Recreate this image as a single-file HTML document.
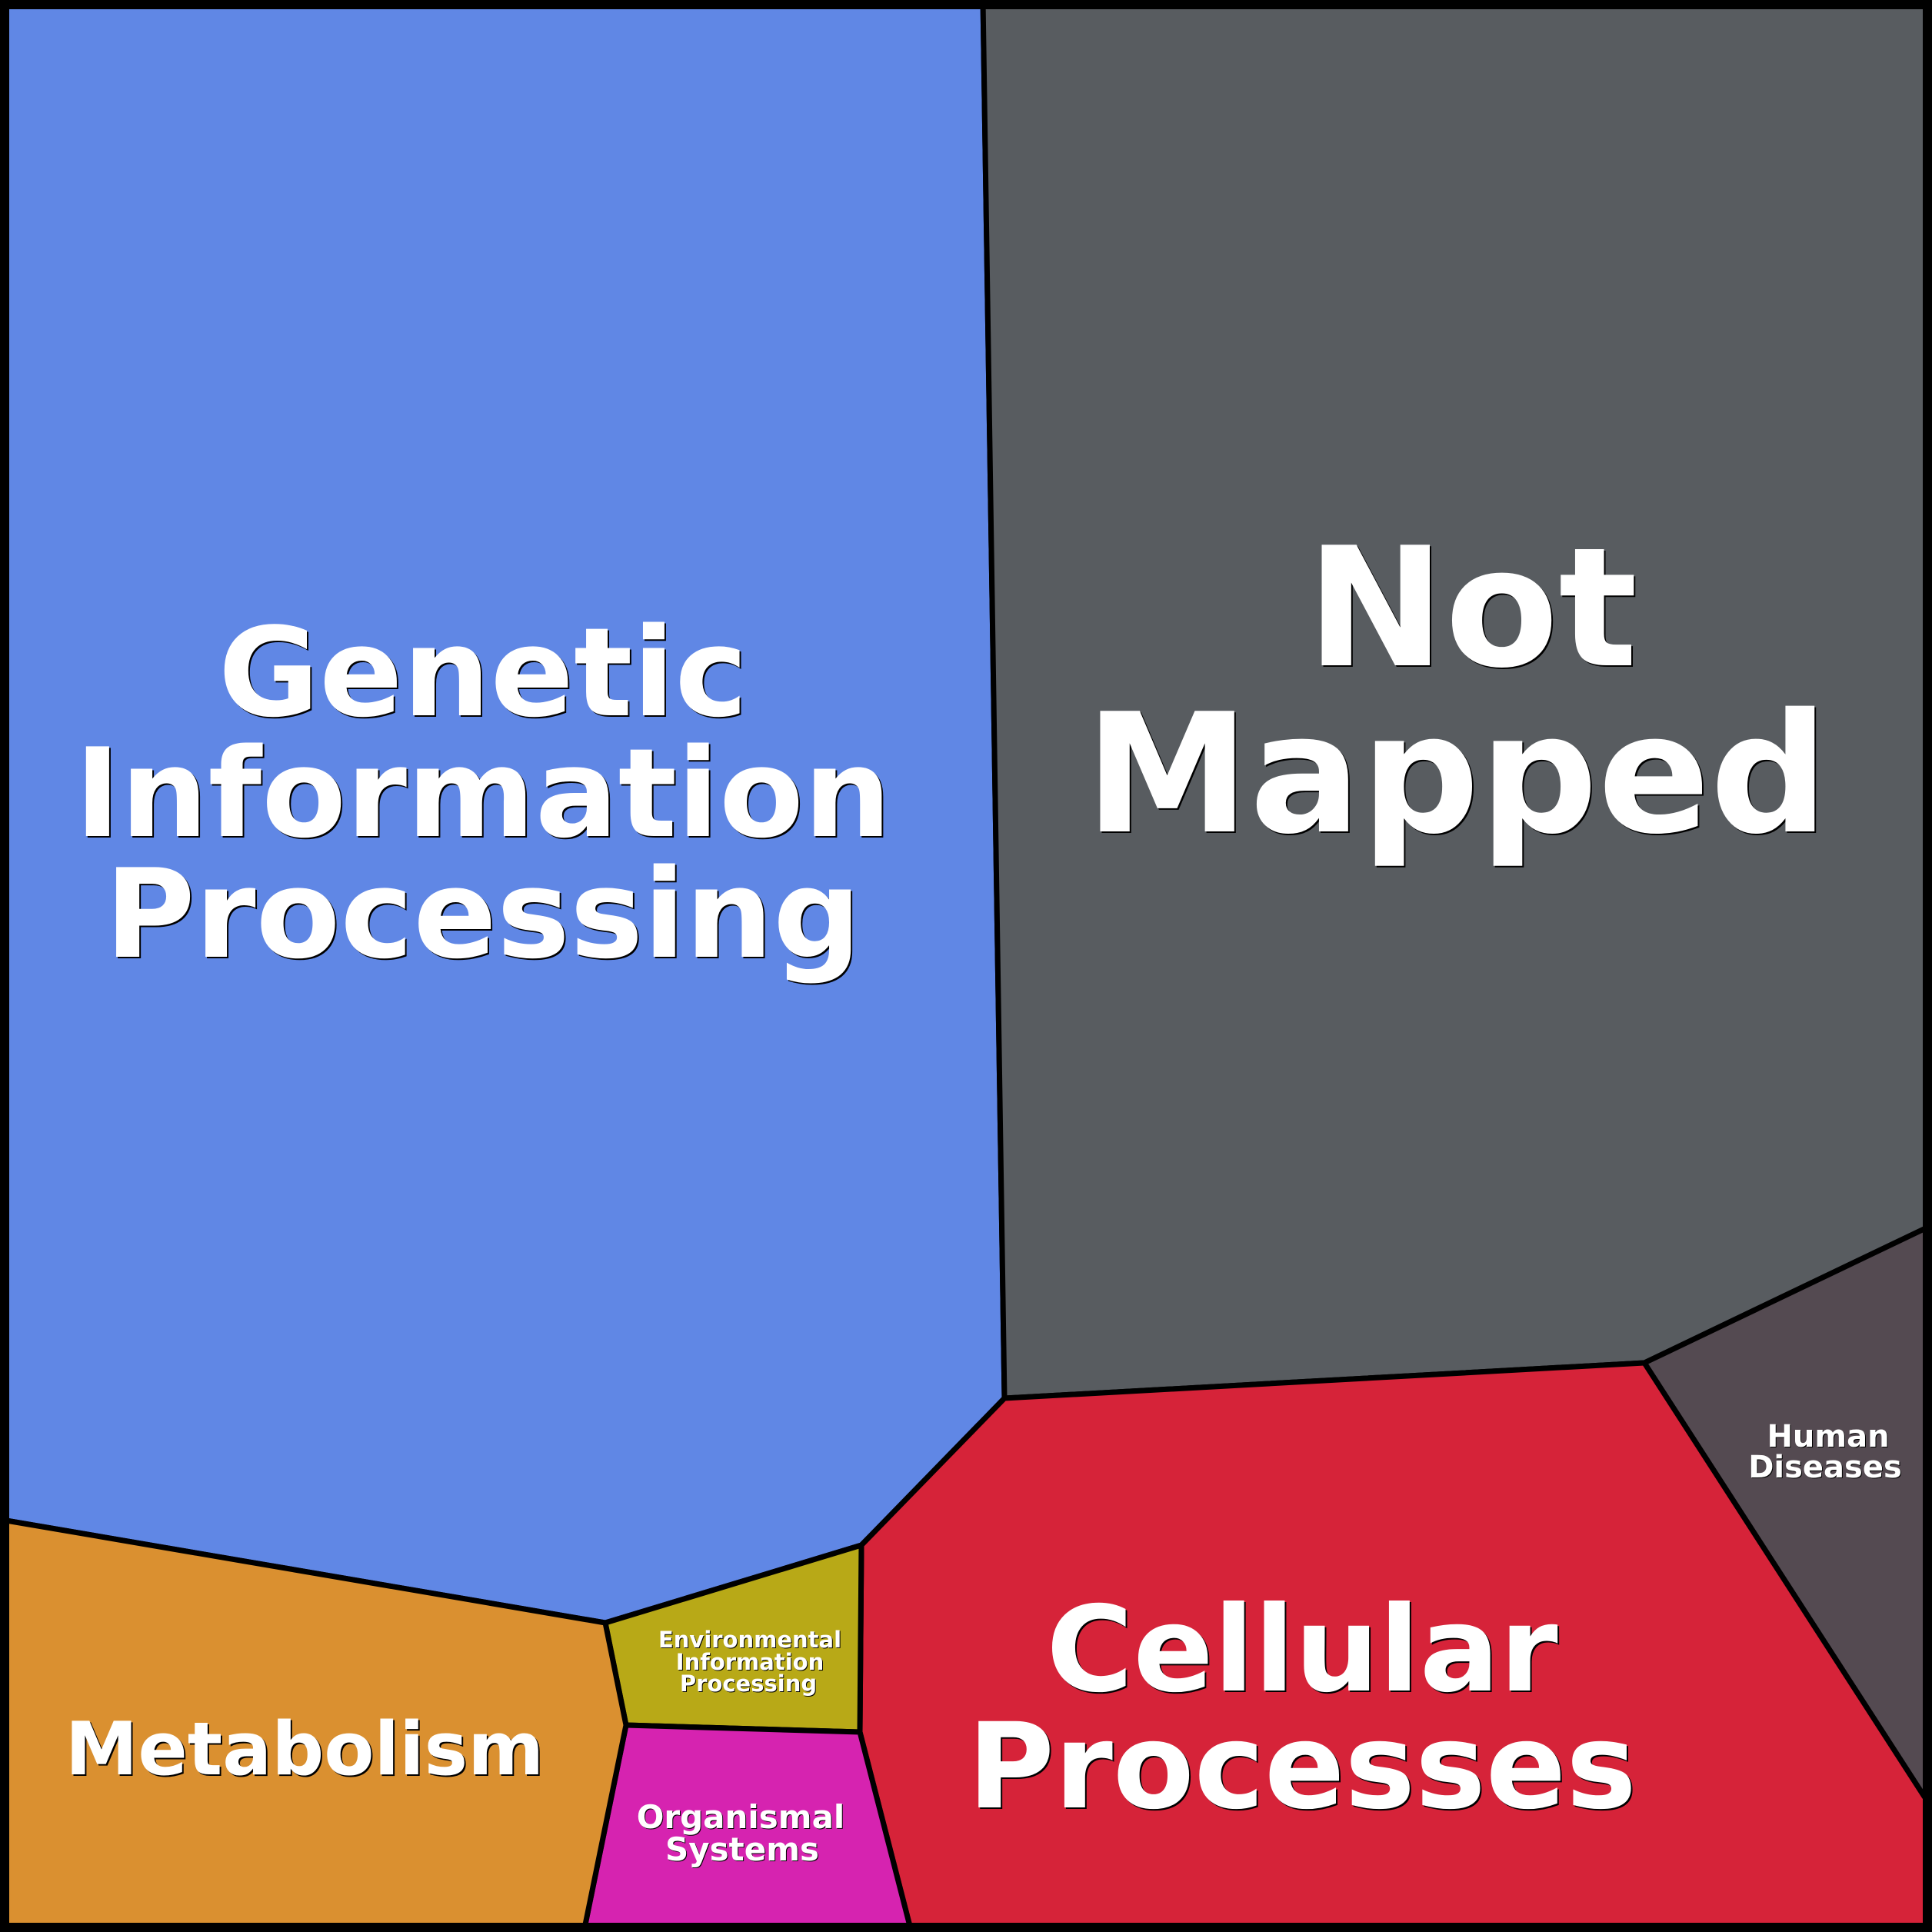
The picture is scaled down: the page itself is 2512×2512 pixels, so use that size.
<!DOCTYPE html>
<html><head><meta charset="utf-8"><style>
html,body{margin:0;padding:0;background:#000}
svg{display:block}
text{font-family:"DejaVu Sans","Liberation Sans",sans-serif;font-weight:bold;text-anchor:middle}
.s{fill:#000}
.w{fill:#fff}
</style></head><body>
<svg width="2512" height="2512" viewBox="0 0 2512 2512" xmlns="http://www.w3.org/2000/svg">
<g stroke="#000" stroke-width="7" stroke-linejoin="round">
<polygon points="0,0 1278,0 1306,1818 1120,2009 787,2110 8,1977 0,1977" fill="#6087e5"/>
<polygon points="1278,0 2512,0 2512,1593 2138,1772 1306,1818" fill="#585c60"/>
<polygon points="2512,1593 2512,2336 2502,2336 2138,1772" fill="#544a51"/>
<polygon points="1306,1818 2138,1772 2502,2336 2512,2336 2512,2512 1185,2512 1118,2252 1120,2009" fill="#d62339"/>
<polygon points="787,2110 1120,2009 1118,2252 814,2243" fill="#b8a917"/>
<polygon points="814,2243 1118,2252 1185,2512 759,2512" fill="#d623b0"/>
<polygon points="0,1977 8,1977 787,2110 814,2243 759,2512 0,2512" fill="#da9030"/>
</g>
<rect x="0" y="0" width="2512" height="2512" fill="none" stroke="#000" stroke-width="24"/>

<g font-size="160">
<text class="s" x="630" y="932">Genetic</text><text class="w" x="628" y="930">Genetic</text>
<text class="s" x="630" y="1089">Information</text><text class="w" x="628" y="1087">Information</text>
<text class="s" x="630" y="1246">Processing</text><text class="w" x="628" y="1244">Processing</text>
</g>
<g font-size="215">
<text class="s" x="1916" y="867">Not</text><text class="w" x="1914" y="865">Not</text>
<text class="s" x="1896" y="1083">Mapped</text><text class="w" x="1894" y="1081">Mapped</text>
</g>
<g font-size="154">
<text class="s" x="1695" y="2200">Cellular</text><text class="w" x="1693" y="2198">Cellular</text>
<text class="s" x="1695" y="2352">Processes</text><text class="w" x="1693" y="2350">Processes</text>
</g>
<g font-size="95">
<text class="s" x="398" y="2309">Metabolism</text><text class="w" x="396" y="2307">Metabolism</text>
</g>
<g font-size="40">
<text class="s" x="2378" y="1882">Human</text><text class="w" x="2377" y="1881">Human</text>
<text class="s" x="2374" y="1922">Diseases</text><text class="w" x="2373" y="1921">Diseases</text>
</g>
<g font-size="29">
<text class="s" x="976" y="2143">Environmental</text><text class="w" x="975" y="2142">Environmental</text>
<text class="s" x="976" y="2172">Information</text><text class="w" x="975" y="2171">Information</text>
<text class="s" x="974" y="2200">Processing</text><text class="w" x="973" y="2199">Processing</text>
</g>
<g font-size="42">
<text class="s" x="964" y="2378">Organismal</text><text class="w" x="963" y="2377">Organismal</text>
<text class="s" x="966" y="2420">Systems</text><text class="w" x="965" y="2419">Systems</text>
</g>
</svg>
</body></html>
